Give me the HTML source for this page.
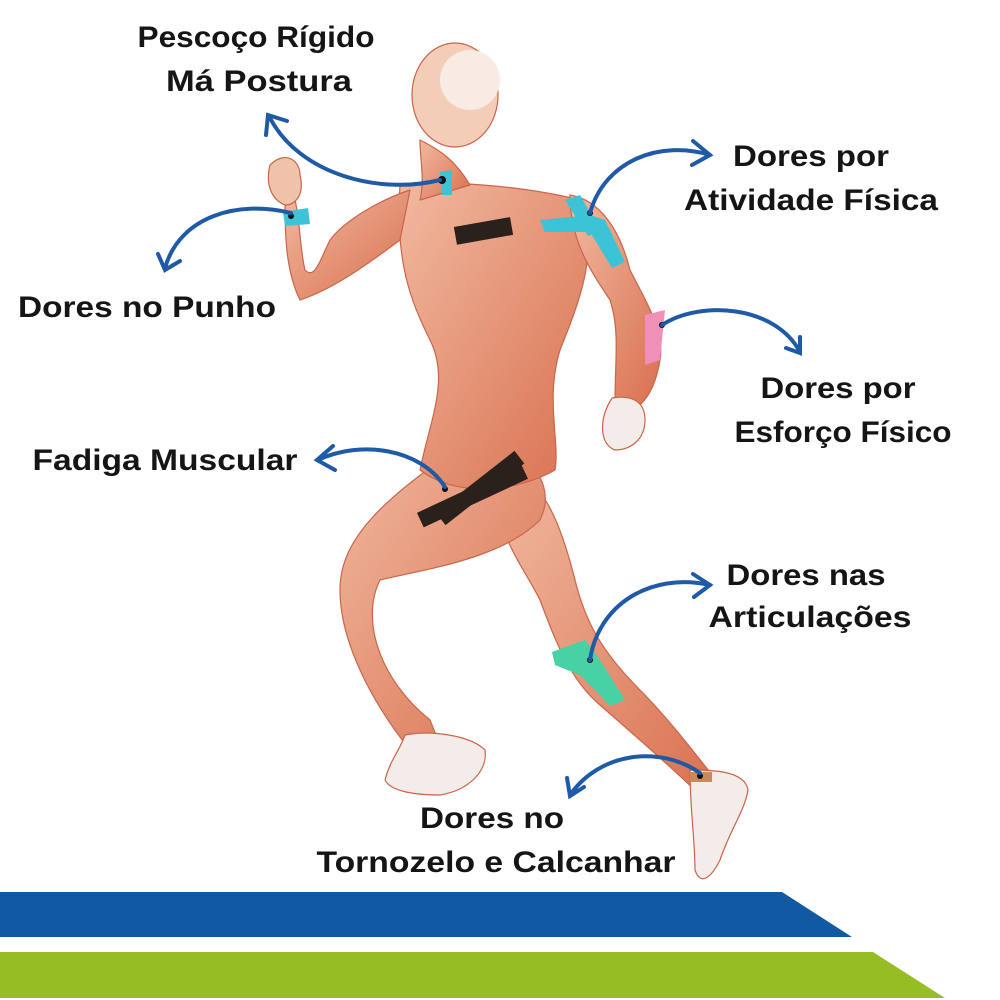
<!DOCTYPE html>
<html><head><meta charset="utf-8"><style>
html,body{margin:0;padding:0;background:#fff;width:1000px;height:1000px;overflow:hidden}
svg{display:block}
text{font-family:"Liberation Sans",sans-serif;font-weight:bold;font-size:30px;fill:#151515}
</style></head><body>
<svg width="1000" height="1000" viewBox="0 0 1000 1000">
<defs>
<linearGradient id="sk" x1="0" y1="0" x2="1" y2="1"><stop offset="0" stop-color="#f1b9a0"/><stop offset="1" stop-color="#d9704f"/></linearGradient>
</defs>
<polygon points="0,892 782,892 852,937 0,937" fill="#1159a3"/>
<polygon points="0,952 873,952 945,998 0,998" fill="#97bd25"/>

<g fill="url(#sk)" stroke="#c9654a" stroke-width="1.2" stroke-linejoin="round">
<path d="M500,470 C540,470 560,520 575,580 C585,620 600,650 640,690 C670,720 700,760 720,785 L705,800 C680,775 640,740 600,705 C570,680 555,640 540,600 C520,560 490,530 500,470Z"/>
<path d="M690,770 C710,770 745,770 748,790 C745,810 730,830 720,860 C710,880 700,885 695,870 C695,840 690,810 690,770Z" fill="#f3ece8"/>
<path d="M470,440 C520,440 560,480 540,520 C500,560 420,570 380,580 C360,620 380,680 430,720 L440,745 L410,750 C370,700 340,640 340,590 C340,540 380,500 470,440Z"/>
<path d="M405,735 C430,730 470,735 485,750 C488,770 470,790 440,795 C410,795 390,790 385,780 C390,760 400,750 405,735Z" fill="#f3ece8"/>
<path d="M400,185 C440,180 520,185 580,200 C600,250 580,300 560,350 C545,400 560,440 555,470 C520,490 460,500 420,470 C430,420 450,380 430,340 C410,300 395,260 400,185Z"/>
<path d="M570,195 C600,200 620,230 630,270 C645,300 665,330 660,360 C655,390 645,400 640,405 L615,400 C615,360 620,330 610,300 C590,270 570,240 570,195Z"/>
<path d="M612,398 C630,395 645,400 645,420 C645,440 630,450 615,450 C600,445 598,420 612,398Z" fill="#f3ece8"/>
<path d="M410,190 C380,200 345,220 330,240 C320,260 315,280 305,270 C300,250 300,220 295,200 L285,200 C285,230 285,270 300,300 C330,290 360,270 400,240Z"/>
<path d="M270,165 C285,150 300,160 300,175 C305,195 295,205 285,205 C272,200 265,185 270,165Z" fill="#f0c2aa"/>
<path d="M420,140 C440,150 455,160 470,185 L420,200 C425,180 420,160 420,140Z"/>
<ellipse cx="455" cy="95" rx="43" ry="52" fill="#f4cdb8"/>
<ellipse cx="470" cy="80" rx="30" ry="30" fill="#f7ebe3" stroke="none"/>
</g>
<rect x="455" y="222" width="57" height="18" fill="#2a201c" transform="rotate(-10 483 231)"/>
<g fill="#2a201c"><rect x="415" y="488" width="115" height="16" transform="rotate(-25 472 496)"/><rect x="430" y="480" width="100" height="16" transform="rotate(-38 480 488)"/></g>
<path d="M540,220 L590,215 L605,220 L625,262 L612,268 L590,232 L545,232Z" fill="#3cc3d6"/>
<path d="M565,200 L580,195 L600,230 L588,236Z" fill="#3cc3d6"/>
<path d="M440,172 L452,170 L452,195 L442,195Z" fill="#3cc3d6"/>
<path d="M283,212 L308,208 L310,224 L285,226Z" fill="#3cc3d6"/>
<path d="M645,315 L665,310 L660,360 L645,365Z" fill="#f08fb8"/>
<path d="M552,652 L585,640 L600,660 L625,700 L610,706 L580,675 L555,665Z" fill="#47d1a4"/>
<path d="M690,772 L712,772 L712,782 L690,782Z" fill="#c88a58"/>
<g fill="#111"><circle cx="442" cy="180" r="4"/><circle cx="291" cy="216" r="3"/><circle cx="590" cy="213" r="3"/><circle cx="662" cy="325" r="3"/><circle cx="445" cy="489" r="3"/><circle cx="590" cy="660" r="3"/><circle cx="700" cy="776" r="3"/></g>
<g fill="none" stroke="#1f5aa6" stroke-width="4" stroke-linecap="round">
<path d="M440,180 C380,195 300,175 270,118"/><polyline points="266,135 268,115 287,121"/>
<path d="M291,213 C240,200 180,215 165,268"/><polyline points="158,254 165,270 180,261"/>
<path d="M590,213 C605,160 660,140 710,155"/><polyline points="693,141 710,155 692,165"/>
<path d="M662,325 C700,300 775,305 800,352"/><polyline points="786,348 800,353 800,337"/>
<path d="M445,487 C420,448 360,440 318,460"/><polyline points="333,446 317,460 335,470"/>
<path d="M590,660 C598,605 650,572 710,585"/><polyline points="693,574 710,585 694,597"/>
<path d="M700,773 C660,745 600,752 570,795"/><polyline points="567,778 570,796 584,787"/>
</g>
<g text-anchor="middle" lengthAdjust="spacingAndGlyphs">
<text x="256" y="47" textLength="237" lengthAdjust="spacingAndGlyphs">Pescoço Rígido</text>
<text x="259" y="91" textLength="186" lengthAdjust="spacingAndGlyphs">Má Postura</text>
<text x="811" y="166" textLength="156" lengthAdjust="spacingAndGlyphs">Dores por</text>
<text x="811" y="210" textLength="254" lengthAdjust="spacingAndGlyphs">Atividade Física</text>
<text x="147" y="317" textLength="258" lengthAdjust="spacingAndGlyphs">Dores no Punho</text>
<text x="838" y="398" textLength="155" lengthAdjust="spacingAndGlyphs">Dores por</text>
<text x="843" y="442" textLength="217" lengthAdjust="spacingAndGlyphs">Esforço Físico</text>
<text x="165" y="470" textLength="265" lengthAdjust="spacingAndGlyphs">Fadiga Muscular</text>
<text x="806" y="585" textLength="159" lengthAdjust="spacingAndGlyphs">Dores nas</text>
<text x="810" y="627" textLength="203" lengthAdjust="spacingAndGlyphs">Articulações</text>
<text x="492" y="828" textLength="144" lengthAdjust="spacingAndGlyphs">Dores no</text>
<text x="496" y="872" textLength="359" lengthAdjust="spacingAndGlyphs">Tornozelo e Calcanhar</text>
</g>
</svg>
</body></html>
